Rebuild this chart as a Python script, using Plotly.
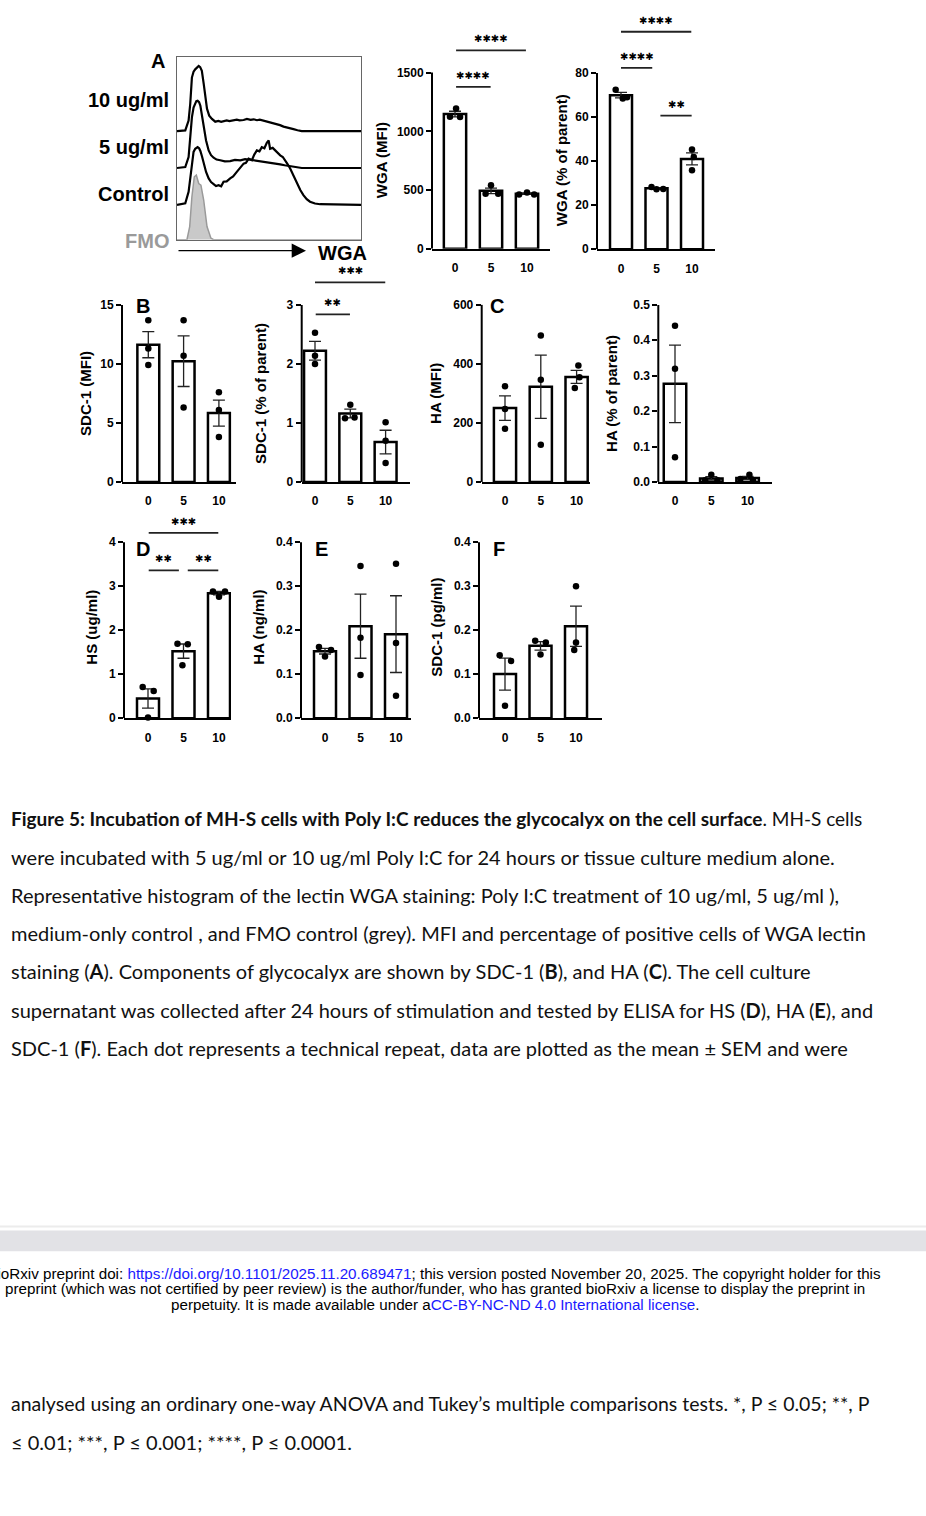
import plotly.graph_objects as go
import numpy as np

W, H = 926, 1516

# ---------------- DATA ----------------
dose_labels = ["0", "5", "10"]

# Panel A: WGA histograms (fluorescence, arbitrary units 0-100; normalised counts)
hist_10_x = [0, 4.5, 6.3, 7.2, 8.1, 9.0, 9.9, 10.8, 11.8, 12.6, 13.5, 14.5, 15.4, 16.3, 17.5, 19.0,
             20.8, 22.5, 24.0, 25.3, 27.0, 28.5, 30.7, 32.5, 34.0, 36.2, 38.0, 40.0, 41.6, 43.5, 45.0,
             47.0, 49.0, 50.5, 52.4, 54.0, 56.0, 57.9, 60.0, 61.5, 63.3, 65.5, 67.8, 100]
hist_10_y = [0, 0.4, 5.8, 15.0, 29.3, 32.5, 33.8, 34.6, 35.6, 35.0, 33.0, 26.0, 18.5, 12.3, 8.5, 6.7,
             5.2, 5.6, 5.1, 5.4, 5.9, 5.5, 5.8, 6.3, 5.9, 6.1, 6.7, 6.2, 6.5, 6.0, 6.3,
             5.8, 5.3, 5.0, 4.3, 4.0, 3.3, 2.5, 2.1, 1.4, 1.1, 0.5, 0, 0]
hist_5_x = [0, 4.5, 6.3, 7.2, 8.1, 9.0, 9.9, 10.5, 11.2, 12.0, 12.7, 13.6, 14.5, 15.8, 17.2, 18.5,
            19.9, 21.5, 23.5, 26.0, 28.9, 31.5, 34.4, 37.0, 39.8, 42.5, 45.2, 48.0, 50.6, 53.0,
            56.1, 58.5, 61.5, 64.5, 67.8, 100]
hist_5_y = [0, 0.5, 6.0, 16.0, 27.7, 33.0, 35.8, 36.5, 36.7, 36.0, 34.0, 28.5, 22.4, 15.0, 9.6, 7.0,
            5.6, 4.6, 4.2, 3.6, 3.8, 4.4, 4.2, 4.8, 4.5, 4.1, 3.8, 3.4, 3.1, 2.6,
            2.0, 1.5, 0.9, 0.4, 0, 0]
hist_ctrl_x = [0, 4.5, 6.3, 7.2, 8.1, 9.0, 9.9, 10.5, 11.2, 12.0, 12.7, 13.6, 14.5, 15.8, 17.2, 18.5,
               19.9, 21.2, 22.6, 24.0, 25.3, 27.0, 28.9, 30.5, 32.5, 34.5, 36.2, 37.5, 38.9, 40.0,
               40.7, 42.0, 43.4, 44.8, 46.1, 47.5, 48.8, 49.8, 50.6, 52.0, 53.3, 54.5, 56.1, 57.5,
               58.8, 60.0, 61.5, 63.3, 65.1, 67.0, 68.7, 70.5, 72.3, 75.0, 77.8, 100]
hist_ctrl_y = [0, 0.9, 7.2, 15.5, 24.4, 29.0, 30.7, 31.3, 31.6, 31.0, 29.5, 26.5, 22.6, 18.0, 14.5, 12.5,
               11.4, 10.3, 10.8, 10.2, 12.7, 12.9, 14.5, 15.6, 18.1, 20.5, 22.6, 23.0, 25.3, 24.8,
               24.4, 27.5, 29.8, 29.3, 31.6, 31.0, 34.0, 35.2, 30.7, 31.2, 29.8, 28.9, 27.1, 26.2,
               24.4, 22.5, 19.9, 16.0, 11.8, 8.2, 5.4, 3.2, 1.8, 0.8, 0.4, 0]
hist_fmo_x = [0, 5.4, 6.9, 8.1, 9.4, 10.5, 11.8, 13.0, 14.5, 16.3, 18.4, 19.9, 100]
hist_fmo_y = [0, 0, 7.2, 23.5, 34.4, 35.3, 30.7, 29.8, 21.7, 7.2, 0.9, 0, 0]
hist_labels = ["10 ug/ml", "5 ug/ml", "Control", "FMO"]

# Bar panels: technical repeats per dose (0, 5, 10 ug/ml)
wga_mfi = [[1124, 1195, 1122], [469, 540, 469], [462, 478, 462]]
wga_pct = [[72.5, 68.5, 69.0], [28.3, 27.2, 27.4], [45.3, 41.9, 35.9]]
sdc1_mfi = [[13.7, 11.3, 9.9], [13.7, 10.7, 6.3], [7.6, 6.1, 3.8]]
sdc1_pct = [[2.53, 2.14, 2.00], [1.31, 1.08, 1.09], [1.01, 0.70, 0.32]]
ha_mfi = [[324, 247, 180], [496, 346, 126], [395, 355, 318]]
ha_pct = [[0.441, 0.320, 0.070], [0.020, 0.005, 0.005], [0.020, 0.008, 0.005]]
hs_sup = [[0.71, 0.62, 0.015], [1.69, 1.68, 1.20], [2.88, 2.88, 2.76]]
ha_sup = [[0.162, 0.155, 0.140], [0.346, 0.183, 0.098], [0.351, 0.171, 0.051]]
sdc1_sup = [[0.143, 0.130, 0.028], [0.176, 0.172, 0.145], [0.300, 0.172, 0.155]]

# Significance comparisons (group a, group b, label)
wga_mfi_sig = [(0, 1, "****"), (0, 2, "****")]
wga_pct_sig = [(0, 2, "****"), (0, 1, "****"), (1, 2, "**")]
sdc1_pct_sig = [(0, 1, "**"), (0, 2, "***")]
hs_sig = [(0, 1, "**"), (1, 2, "**"), (0, 2, "***")]

caption_lines = [
    "<b>Figure 5: Incubation of MH-S cells with Poly I:C reduces the glycocalyx on the cell surface</b>. MH-S cells",
    "were incubated with 5 ug/ml or 10 ug/ml Poly I:C for 24 hours or tissue culture medium alone.",
    "Representative histogram of the lectin WGA staining: Poly I:C treatment of 10 ug/ml, 5 ug/ml ),",
    "medium-only control , and FMO control (grey). MFI and percentage of positive cells of WGA lectin",
    "staining (<b>A</b>). Components of glycocalyx are shown by SDC-1 (<b>B</b>), and HA (<b>C</b>). The cell culture",
    "supernatant was collected after 24 hours of stimulation and tested by ELISA for HS (<b>D</b>), HA (<b>E</b>), and",
    "SDC-1 (<b>F</b>). Each dot represents a technical repeat, data are plotted as the mean ± SEM and were",
]
caption_tail = [
    "analysed using an ordinary one-way ANOVA and Tukey’s multiple comparisons tests. *, P ≤ 0.05; **, P",
    "≤ 0.01; ***, P ≤ 0.001; ****, P ≤ 0.0001.",
]
footer_lines = [
    "bioRxiv preprint doi: <span style='color:#1a1aff'>https://doi.org/10.1101/2025.11.20.689471</span>; this version posted November 20, 2025. The copyright holder for this",
    "preprint (which was not certified by peer review) is the author/funder, who has granted bioRxiv a license to display the preprint in",
    "perpetuity. It is made available under a<span style='color:#1a1aff'>CC-BY-NC-ND 4.0 International license</span>.",
]

# ---------------- LAYOUT / STYLE ----------------
FONT = "Liberation Sans, Arial, sans-serif"
STAR_FONT = "DejaVu Sans"


def fx(p):
    return p / W


def fy(p):
    return 1 - p / H


panels = [
    dict(vals=wga_mfi, ax=432, xend=550, bar0=455, sp=36, y0=249, ytop=72, top=1500, rtop=1800,
         ticks=[0, 500, 1000, 1500], fmt="{:.0f}", sig=wga_mfi_sig, sigy=[1378, 1689],
         trims=[(0.03, 0.01), (0.03, 0.03)], title="WGA (MFI)", tpos=(381, 160), letter=None,
         jit=[[-0.14, 0.03, 0.14], [-0.15, 0, 0.2], [-0.22, 0, 0.2]]),
    dict(vals=wga_pct, ax=597, xend=715, bar0=621, sp=35.5, y0=249.5, ytop=72.5, top=80, rtop=105,
         ticks=[0, 20, 40, 60, 80], fmt="{:.0f}", sig=wga_pct_sig, sigy=[98.8, 82.4, 60.7],
         trims=[(0, 0.02), (0, 0.12), (0.11, 0.01)], title="WGA (% of parent)", tpos=(561, 160),
         letter=None, jit=[[-0.15, 0.05, 0.17], [-0.14, 0, 0.19], [0, 0.05, 0]]),
    dict(vals=sdc1_mfi, ax=122, xend=236, bar0=148.3, sp=35.3, y0=483.5, ytop=305.5, top=15, rtop=15.5,
         ticks=[0, 5, 10, 15], fmt="{:.0f}", sig=[], sigy=[], trims=[], title="SDC-1 (MFI)",
         tpos=(86, 395), letter=("B", 143, 307), jit=[[0, 0, 0], [0, 0, 0], [0, 0, 0]]),
    dict(vals=sdc1_pct, ax=301.7, xend=410, bar0=315, sp=35.3, y0=483.5, ytop=305.5, top=3, rtop=3.5,
         ticks=[0, 1, 2, 3], fmt="{:.0f}", sig=sdc1_pct_sig, sigy=[2.84, 3.38],
         trims=[(0.02, 0.01), (0, 0.01)], title="SDC-1 (% of parent)", tpos=(261, 395), letter=None,
         jit=[[0, 0, 0], [0, -0.15, 0.12], [0, 0, 0]]),
    dict(vals=ha_mfi, ax=481.7, xend=590, bar0=505, sp=35.8, y0=483.5, ytop=305.5, top=600, rtop=620,
         ticks=[0, 200, 400, 600], fmt="{:.0f}", sig=[], sigy=[], trims=[], title="HA (MFI)",
         tpos=(436, 395), letter=("C", 497, 307), jit=[[0, 0, 0], [0, 0, 0], [0.05, 0.08, -0.05]]),
    dict(vals=ha_pct, ax=658.3, xend=771.7, bar0=675, sp=36.3, y0=483.5, ytop=305.5, top=0.5, rtop=0.52,
         ticks=[0, 0.1, 0.2, 0.3, 0.4, 0.5], fmt="{:.1f}", sig=[], sigy=[], trims=[],
         title="HA (% of parent)", tpos=(612, 395), letter=None,
         jit=[[0, 0, 0], [0, -0.17, 0.17], [0.05, -0.2, 0.15]]),
    dict(vals=hs_sup, ax=124, xend=231, bar0=148, sp=35.5, y0=721, ytop=544, top=4, rtop=4.4,
         ticks=[0, 1, 2, 3, 4], fmt="{:.0f}", sig=hs_sig, sigy=[3.36, 3.36, 4.21],
         trims=[(0.02, 0.13), (0.12, 0.02), (0.02, 0.02)], title="HS (ug/ml)", tpos=(92, 630),
         letter=("D", 143, 551), jit=[[-0.15, 0.16, 0], [-0.17, 0.12, -0.03], [-0.17, 0.17, 0]]),
    dict(vals=ha_sup, ax=301, xend=411, bar0=325, sp=35.5, y0=721, ytop=544, top=0.4, rtop=0.42,
         ticks=[0, 0.1, 0.2, 0.3, 0.4], fmt="{:.1f}", sig=[], sigy=[], trims=[], title="HA (ng/ml)",
         tpos=(259, 630), letter=("E", 321, 551), jit=[[-0.17, 0.17, 0], [0, 0, 0], [0, 0, 0]]),
    dict(vals=sdc1_sup, ax=479, xend=602, bar0=505, sp=35.5, y0=721, ytop=544, top=0.4, rtop=0.42,
         ticks=[0, 0.1, 0.2, 0.3, 0.4], fmt="{:.1f}", sig=[], sigy=[], trims=[], title="SDC-1 (pg/ml)",
         tpos=(437, 630), letter=("F", 499, 551), jit=[[-0.15, 0.17, 0], [-0.15, 0.15, 0], [0, 0, -0.05]]),
]

fig = go.Figure()
lay = {}
shapes = []
annotations = []
BAR_W = 0.62


def axid(n):
    return ("x", "y") if n == 1 else (f"x{n}", f"y{n}")


for i, p in enumerate(panels):
    n = i + 1
    xa, ya = axid(n)
    xk, yk = ("xaxis", "yaxis") if n == 1 else (f"xaxis{n}", f"yaxis{n}")
    vals = np.array(p["vals"], dtype=float)
    means = vals.mean(axis=1)
    sems = vals.std(axis=1, ddof=1) / np.sqrt(vals.shape[1])
    cats = np.arange(len(dose_labels))

    fig.add_trace(go.Bar(
        x=cats, y=means, width=BAR_W, xaxis=xa, yaxis=ya,
        marker=dict(color="white", line=dict(color="black", width=2.5)),
        error_y=dict(type="data", array=sems, color="#222", thickness=1.3, width=6),
        showlegend=False, hoverinfo="skip"))
    dx, dy = [], []
    for c in range(len(dose_labels)):
        for k, v in enumerate(p["vals"][c]):
            dx.append(c + p["jit"][c][k])
            dy.append(v)
    fig.add_trace(go.Scatter(
        x=dx, y=dy, mode="markers", xaxis=xa, yaxis=ya, cliponaxis=False,
        marker=dict(color="black", size=6.5), showlegend=False, hoverinfo="skip"))

    scale = (p["y0"] - p["ytop"]) / p["top"]
    dom_top = p["y0"] - p["rtop"] * scale
    lay[xk] = dict(
        domain=[fx(p["ax"]), fx(p["xend"])], anchor=ya,
        range=[-(p["bar0"] - p["ax"]) / p["sp"], (p["xend"] - p["bar0"]) / p["sp"]],
        showline=True, linecolor="black", linewidth=2, ticks="", showgrid=False, zeroline=False,
        tickvals=list(cats), ticktext=dose_labels, ticklabelstandoff=7,
        tickfont=dict(family=FONT, size=12, color="black", weight="bold"), fixedrange=True)
    lay[yk] = dict(
        domain=[fy(p["y0"]), fy(dom_top)], anchor=xa, range=[0, p["rtop"]],
        showline=False, ticks="outside", ticklen=5, tickwidth=2, tickcolor="black",
        tickvals=p["ticks"], ticktext=[p["fmt"].format(t) for t in p["ticks"]],
        showgrid=False, zeroline=False,
        tickfont=dict(family=FONT, size=12, color="black", weight="bold"), fixedrange=True)
    # Prism-style y axis line stopping at the top tick
    shapes.append(dict(type="line", xref=f"{xa} domain", yref=ya, x0=0, x1=0, y0=0, y1=p["top"],
                       line=dict(color="black", width=2), layer="above"))
    # significance bars
    for (a, b, lab), ly, (t0, t1) in zip(p["sig"], p["sigy"], p["trims"]):
        shapes.append(dict(type="line", xref=xa, yref=ya, x0=a + t0, x1=b - t1, y0=ly, y1=ly,
                           line=dict(color="#222", width=1.8)))
        annotations.append(dict(xref=xa, yref=ya, x=(a + t0 + b - t1) / 2, y=ly, yshift=11.5,
                                text=lab.replace("*", "✱"), showarrow=False,
                                font=dict(family=STAR_FONT, size=10, color="black")))
    # axis title
    annotations.append(dict(xref="paper", yref="paper", x=fx(p["tpos"][0]), y=fy(p["tpos"][1]),
                            text=p["title"], textangle=-90, showarrow=False,
                            xanchor="center", yanchor="middle",
                            font=dict(family=FONT, size=15, color="black", weight="bold")))
    if p["letter"]:
        L, lx, ly_ = p["letter"]
        annotations.append(dict(xref="paper", yref="paper", x=fx(lx), y=fy(ly_), text=L,
                                showarrow=False, xanchor="center", yanchor="middle",
                                font=dict(family=FONT, size=20, color="black", weight="bold")))

# ---------------- Panel A histogram ----------------
hx, hy = "x10", "y10"
hist_offsets = [59.3, 39.2, 19.0, 0]
hist_sets = [(hist_10_x, hist_10_y), (hist_5_x, hist_5_y), (hist_ctrl_x, hist_ctrl_y)]
fig.add_trace(go.Scatter(x=hist_fmo_x, y=[v + hist_offsets[3] for v in hist_fmo_y], xaxis=hx, yaxis=hy,
                         mode="lines", fill="tozeroy", fillcolor="#c9c9c9",
                         line=dict(color="#9a9a9a", width=1.5), showlegend=False, hoverinfo="skip"))
for (xs, ys), off in zip(hist_sets[::-1], hist_offsets[2::-1]):
    fig.add_trace(go.Scatter(x=xs, y=[v + off for v in ys], xaxis=hx, yaxis=hy, mode="lines",
                             line=dict(color="black", width=2.2), showlegend=False, hoverinfo="skip"))
lay["xaxis10"] = dict(domain=[fx(177), fx(361)], anchor=hy, range=[0, 100], showline=True, mirror=True,
                      linecolor="#666", linewidth=1, ticks="", showticklabels=False, showgrid=False,
                      zeroline=False, fixedrange=True)
lay["yaxis10"] = dict(domain=[fy(240), fy(56)], anchor=hx, range=[0, 100], showline=True, mirror=True,
                      linecolor="#666", linewidth=1, ticks="", showticklabels=False, showgrid=False,
                      zeroline=False, fixedrange=True)
label_y = [100, 147, 194, 241]
label_c = ["black", "black", "black", "#9a9a9a"]
for t, yy, cc in zip(hist_labels, label_y, label_c):
    annotations.append(dict(xref="paper", yref="paper", x=fx(171), y=fy(yy), text=t, showarrow=False,
                            xanchor="right", yanchor="middle",
                            font=dict(family=FONT, size=20, color=cc, weight="bold")))
annotations.append(dict(xref="paper", yref="paper", x=fx(158), y=fy(60), text="A", showarrow=False,
                        xanchor="center", yanchor="middle",
                        font=dict(family=FONT, size=20, color="black", weight="bold")))
annotations.append(dict(xref="paper", yref="paper", x=fx(306), y=fy(251), text="", showarrow=True,
                        ax=-129, ay=0, arrowhead=2, arrowsize=2.2, arrowwidth=1.3, arrowcolor="black"))
annotations.append(dict(xref="paper", yref="paper", x=fx(342), y=fy(253), text="WGA", showarrow=False,
                        xanchor="center", yanchor="middle",
                        font=dict(family=FONT, size=20, color="black", weight="bold")))

# ---------------- Caption and page furniture ----------------
cap_sizes = [19, 20, 20, 20, 20, 20, 20]
tail_sizes = [19.5, 20]
for k, t in enumerate(caption_lines):
    annotations.append(dict(xref="paper", yref="paper", x=fx(9), y=fy(822 + k * 38.4), text=t,
                            showarrow=False, xanchor="left", yanchor="middle",
                            font=dict(family="Lato, Carlito, sans-serif", size=cap_sizes[k], color="#111")))
for k, t in enumerate(caption_tail):
    annotations.append(dict(xref="paper", yref="paper", x=fx(9), y=fy(1410 + k * 39), text=t,
                            showarrow=False, xanchor="left", yanchor="middle",
                            font=dict(family="Lato, Carlito, sans-serif", size=tail_sizes[k], color="#111")))
for k, t in enumerate(footer_lines):
    annotations.append(dict(xref="paper", yref="paper", x=fx(435), y=fy(1279 + k * 15.5), text=t,
                            showarrow=False, xanchor="center", yanchor="middle",
                            font=dict(family=FONT, size=15.2, color="black")))

shapes.append(dict(type="rect", xref="paper", yref="paper", x0=0, x1=1, y0=fy(1257), y1=fy(1236),
                   fillcolor="#e2e2e6", line=dict(width=0), layer="below"))
shapes.append(dict(type="line", xref="paper", yref="paper", x0=0, x1=1, y0=fy(1232), y1=fy(1232),
                   line=dict(color="#ececec", width=2), layer="below"))

fig.update_layout(
    width=W, height=H, autosize=False, margin=dict(l=0, r=0, t=0, b=0),
    paper_bgcolor="white", plot_bgcolor="rgba(0,0,0,0)", showlegend=False,
    shapes=shapes, annotations=annotations, **lay)

fig.write_html("out.html", config={"displayModeBar": False},
               post_script="document.body.style.margin='0';")
